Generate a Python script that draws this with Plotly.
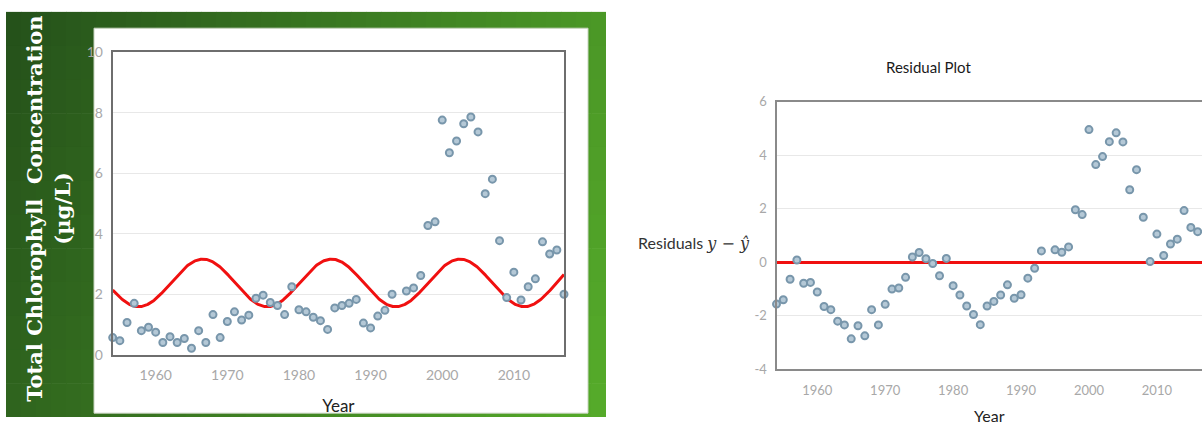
import plotly.graph_objects as go
import math

# ---- data -------------------------------------------------------------
years = [1954, 1955, 1956, 1957, 1958, 1959, 1960, 1961, 1962, 1963,
         1964, 1965, 1966, 1967, 1968, 1969, 1970, 1971, 1972, 1973,
         1974, 1975, 1976, 1977, 1978, 1979, 1980, 1981, 1982, 1983,
         1984, 1985, 1986, 1987, 1988, 1989, 1990, 1991, 1992, 1993,
         1995, 1996, 1997, 1998, 1999, 2000, 2001, 2002, 2003, 2004,
         2005, 2006, 2007, 2008, 2009, 2010, 2011, 2012, 2013, 2014,
         2015, 2016, 2017]

chlorophyll = [0.58, 0.48, 1.08, 1.71, 0.81, 0.92, 0.76, 0.42, 0.61, 0.42,
               0.55, 0.23, 0.81, 0.42, 1.34, 0.58, 1.11, 1.43, 1.16, 1.32,
               1.88, 1.98, 1.74, 1.64, 1.34, 2.26, 1.50, 1.43, 1.25, 1.14,
               0.85, 1.56, 1.64, 1.71, 1.84, 1.06, 0.90, 1.29, 1.48, 2.01,
               2.12, 2.22, 2.63, 4.28, 4.40, 7.76, 6.68, 7.07, 7.64, 7.86,
               7.37, 5.33, 5.81, 3.78, 1.90, 2.74, 1.82, 2.26, 2.52, 3.74,
               3.34, 3.47, 2.01]

residuals = [-1.57, -1.41, -0.64, 0.08, -0.79, -0.76, -1.12, -1.66, -1.78, -2.21,
             -2.35, -2.87, -2.38, -2.76, -1.78, -2.35, -1.58, -1.01, -0.97, -0.57,
             0.19, 0.36, 0.13, -0.05, -0.51, 0.14, -0.88, -1.23, -1.64, -1.96,
             -2.34, -1.64, -1.47, -1.23, -0.85, -1.35, -1.22, -0.60, -0.23, 0.42,
             0.46, 0.37, 0.57, 1.96, 1.78, 4.96, 3.65, 3.95, 4.51, 4.84,
             4.50, 2.71, 3.46, 1.68, 0.02, 1.05, 0.25, 0.68, 0.86, 1.93,
             1.30, 1.14, -0.65]

x_ticks = [1960, 1970, 1980, 1990, 2000, 2010]
y_ticks_left = [0, 2, 4, 6, 8, 10]
y_ticks_right = [-4, -2, 0, 2, 4, 6]
y_ticktext_right = ["-4", "-2", "0", "2", "4", "6"]

# sinusoidal model: midline, amplitude, period (years), year of a peak
model_mid = 2.385
model_amp = 0.785
model_period = 17.95
model_peak = 1966.6

# ---- model curve ------------------------------------------------------
curve_x = [1954 + i * 0.1 for i in range(631)]
curve_y = [model_mid + model_amp * math.cos(2 * math.pi * (x - model_peak) / model_period)
           for x in curve_x]

W, H = 1202, 425
TICK_FONT = "Century Gothic, URW Gothic, Lato, sans-serif"
marker_style = dict(size=7, color="#b4c8d6", line=dict(color="#7896ab", width=2))

fig = go.Figure()

fig.add_trace(go.Scatter(x=curve_x, y=curve_y, mode="lines",
                         line=dict(color="#f01010", width=3),
                         xaxis="x", yaxis="y", hoverinfo="skip"))
fig.add_trace(go.Scatter(x=years, y=chlorophyll, mode="markers",
                         marker=marker_style, cliponaxis=False,
                         xaxis="x", yaxis="y"))
fig.add_trace(go.Scatter(x=years, y=residuals, mode="markers",
                         marker=marker_style, cliponaxis=False,
                         xaxis="x2", yaxis="y2"))

# ---- green panel behind the left chart (diagonal gradient) ---------------
shapes = []
dark = (36, 80, 26)
bright = (86, 172, 42)
gx0, gx1, gy0, gy1 = 6, 606, 3, 425
ncol, nrow = 40, 12
for i in range(ncol):
    for j in range(nrow):
        u = (i + 0.5) / ncol
        v = (j + 0.5) / nrow
        t = min(1.0, max(0.0, 0.78 * u + 0.22 * v))
        c = tuple(round(dark[k] + (bright[k] - dark[k]) * t) for k in range(3))
        x0 = gx0 + (gx1 - gx0) * i / ncol
        x1 = gx0 + (gx1 - gx0) * (i + 1) / ncol + 0.6
        y0 = gy0 + (gy1 - gy0) * j / nrow
        y1 = gy0 + (gy1 - gy0) * (j + 1) / nrow + 0.6
        shapes.append(dict(type="rect", xref="paper", yref="paper",
                           x0=x0 / W, x1=min(x1, gx1) / W,
                           y0=1 - min(y1, gy1) / H, y1=1 - y0 / H,
                           fillcolor="rgb(%d,%d,%d)" % c, line=dict(width=0),
                           layer="below"))
# white card holding the chart
shapes.append(dict(type="rect", xref="paper", yref="paper",
                   x0=94 / W, x1=588 / W, y0=1 - 421 / H, y1=1 - 20 / H,
                   fillcolor="white", line=dict(color="#c8d4c0", width=1),
                   layer="below"))

axis_common = dict(showline=True, linecolor="#6e6e6e", linewidth=2,
                   ticks="", showgrid=True, gridcolor="#e8e8e8", gridwidth=1,
                   zeroline=False,
                   tickfont=dict(family=TICK_FONT, size=14, color="#a8a8a8"))

fig.update_layout(
    width=W, height=H,
    margin=dict(l=0, r=0, t=0, b=0),
    paper_bgcolor="white", plot_bgcolor="rgba(0,0,0,0)",
    showlegend=False,
    shapes=shapes,
    xaxis=dict(axis_common, domain=[112.7 / W, 564 / W], range=[1954, 2017],
               tickvals=x_ticks, mirror=True, showgrid=False,
               ticklabelstandoff=6,
               title=dict(text="Year", standoff=18,
                          font=dict(family=TICK_FONT, size=17, color="#222"))),
    yaxis=dict(axis_common, domain=[1 - 360.6 / H, 1 - 45 / H], range=[0, 10],
               tickvals=y_ticks_left, mirror=True, ticklabelstandoff=5),
    xaxis2=dict(axis_common, domain=[776.5 / W, 1.0], range=[1954, 2016.64],
                anchor="y2", tickvals=x_ticks, mirror=True, showgrid=False,
                linecolor="#8a8a8a", ticklabelstandoff=8,
                tickfont=dict(family=TICK_FONT, size=13, color="#a8a8a8"),
                title=dict(text="Year", standoff=14,
                           font=dict(family=TICK_FONT, size=16, color="#222"))),
    yaxis2=dict(axis_common, domain=[1 - 375 / H, 1 - 96.7 / H], range=[-4, 6],
                anchor="x2", tickvals=y_ticks_right, ticktext=y_ticktext_right,
                linecolor="#8a8a8a", ticklabelstandoff=5,
                zeroline=True, zerolinecolor="#f01010", zerolinewidth=3,
                tickfont=dict(family=TICK_FONT, size=13, color="#a8a8a8")),
    annotations=[
        dict(text="Total Chlorophyll  Concentration<br>(\u00b5g/L)",
             xref="paper", yref="paper", x=48 / W, y=1 - 208 / H,
             xanchor="center", yanchor="middle", textangle=-90, showarrow=False,
             align="center",
             font=dict(family="DejaVu Serif", size=21, color="white", weight="bold")),
        dict(text="Residual Plot", xref="paper", yref="paper",
             x=928 / W, y=1 - 60 / H, xanchor="center", yanchor="middle",
             showarrow=False,
             font=dict(family=TICK_FONT, size=15, color="#1a1a1a")),
        dict(text="Residuals <span style=\"font-family:'DejaVu Serif'\"><i>y</i> \u2212 <i>\u0177</i></span>",
             xref="paper", yref="paper", x=752 / W, y=1 - 244 / H,
             xanchor="right", yanchor="middle", showarrow=False,
             font=dict(family=TICK_FONT, size=16, color="#333")),
    ],
)

fig.write_html("out.html")
